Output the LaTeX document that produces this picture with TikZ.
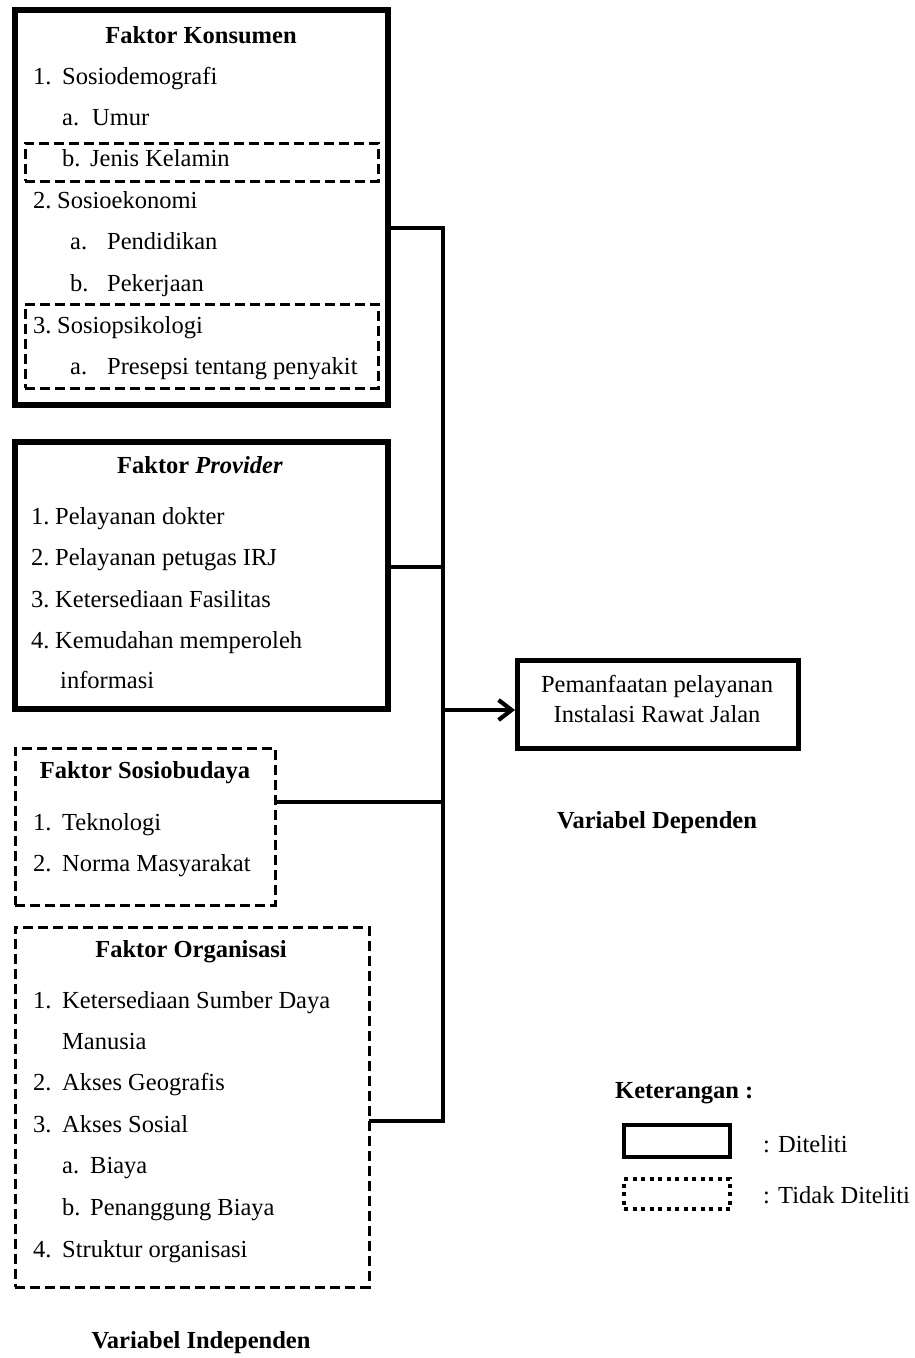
\documentclass[tikz,border=0pt]{standalone}
\usepackage{fontspec}
\setmainfont{Liberation Serif}
\usetikzlibrary{arrows.meta}
\newcommand\itemlbl[2]{\makebox[#1][l]{#2}}
\begin{document}
\begin{tikzpicture}[x=1pt,y=-1pt,
  solidbox/.style={draw, line width=5.5pt, inner sep=0pt, outer sep=0pt, anchor=north west},
  dashbox/.style={draw, line width=3pt, dash pattern=on 10pt off 5pt, inner sep=0pt, outer sep=0pt, anchor=north west},
  dotbox/.style={draw, line width=3.8pt, dash pattern=on 4pt off 4.5pt, inner sep=0pt, outer sep=0pt, anchor=north west},
  txt/.style={anchor=base west, inner sep=0pt, font=\fontsize{24.5}{29}\selectfont},
  ctxt/.style={anchor=base, inner sep=0pt, font=\fontsize{24.5}{29}\selectfont},
  ttl/.style={anchor=base, inner sep=0pt, font=\fontsize{24.5}{29}\selectfont\bfseries},
  conn/.style={line width=4.2pt}
]
\useasboundingbox[fill=white] (0,0) rectangle (914,1358);

% ---------- Faktor Konsumen ----------
\node[solidbox, minimum width=373pt, minimum height=395pt] (kons) at (15,10) {};
\node[dashbox, minimum width=353pt, minimum height=38pt] (jk) at (25,143) {};
\node[dashbox, minimum width=353pt, minimum height=84pt] (sp) at (25,304) {};
\node[ttl] (k0) at (201,43) {Faktor Konsumen};
\node[txt] (k1) at (33,84) {\itemlbl{29pt}{1.}Sosiodemografi};
\node[txt] (k2) at (62,125) {\itemlbl{30pt}{a.}Umur};
\node[txt] (k3) at (62,166) {\itemlbl{28pt}{b.}Jenis Kelamin};
\node[txt] (k4) at (33,208) {\itemlbl{24pt}{2.}Sosioekonomi};
\node[txt] (k5) at (70,249) {\itemlbl{37pt}{a.}Pendidikan};
\node[txt] (k6) at (70,291) {\itemlbl{37pt}{b.}Pekerjaan};
\node[txt] (k7) at (33,333) {\itemlbl{24pt}{3.}Sosiopsikologi};
\node[txt] (k8) at (70,374) {\itemlbl{37pt}{a.}Presepsi tentang penyakit};

% ---------- Faktor Provider ----------
\node[solidbox, minimum width=373pt, minimum height=267pt] (prov) at (15,442) {};
\node[ttl] (p0) at (200,473) {Faktor \textit{Provider}};
\node[txt] (p1) at (31,524) {\itemlbl{24pt}{1.}Pelayanan dokter};
\node[txt] (p2) at (31,565) {\itemlbl{24pt}{2.}Pelayanan petugas IRJ};
\node[txt] (p3) at (31,607) {\itemlbl{24pt}{3.}Ketersediaan Fasilitas};
\node[txt] (p4) at (31,648) {\itemlbl{24pt}{4.}Kemudahan memperoleh};
\node[txt] (p5) at (60,688) {informasi};

% ---------- Faktor Sosiobudaya ----------
\node[dashbox, minimum width=260pt, minimum height=157pt] (sosb) at (15,748) {};
\node[ttl] (s0) at (145,778) {Faktor Sosiobudaya};
\node[txt] (s1) at (33,830) {\itemlbl{29pt}{1.}Teknologi};
\node[txt] (s2) at (33,871) {\itemlbl{29pt}{2.}Norma Masyarakat};

% ---------- Faktor Organisasi ----------
\node[dashbox, minimum width=354pt, minimum height=360pt] (org) at (15,927) {};
\node[ttl] (o0) at (191,957) {Faktor Organisasi};
\node[txt] (o1) at (33,1008) {\itemlbl{29pt}{1.}Ketersediaan Sumber Daya};
\node[txt] (o2) at (62,1049) {Manusia};
\node[txt] (o3) at (33,1090) {\itemlbl{29pt}{2.}Akses Geografis};
\node[txt] (o4) at (33,1132) {\itemlbl{29pt}{3.}Akses Sosial};
\node[txt] (o5) at (62,1173) {\itemlbl{28pt}{a.}Biaya};
\node[txt] (o6) at (62,1215) {\itemlbl{28pt}{b.}Penanggung Biaya};
\node[txt] (o7) at (33,1257) {\itemlbl{29pt}{4.}Struktur organisasi};
\node[ttl] (vi) at (201,1348) {Variabel Independen};

% ---------- Dependent ----------
\node[solidbox, line width=5pt, minimum width=281pt, minimum height=88pt] (dep) at (517,660) {};
\node[ctxt] (d1) at (657,692) {Pemanfaatan pelayanan};
\node[ctxt] (d2) at (657,722) {Instalasi Rawat Jalan};
\node[ttl] (vd) at (657,828) {Variabel Dependen};

% ---------- Connectors ----------
\coordinate (b1) at (443,228);
\coordinate (b2) at (443,567);
\coordinate (b3) at (443,802);
\coordinate (b4) at (443,1121);
\coordinate (ba) at (443,710);
\draw[conn] (kons.east |- b1) -- (b1) -- (b4) -- (org.east |- b4);
\draw[conn] (prov.east |- b2) -- (b2);
\draw[conn] (sosb.east |- b3) -- (b3);
\draw[conn, -{Straight Barb[length=13pt, width=20pt]}] (ba) -- ([xshift=-2pt]dep.west |- ba);

% ---------- Legend ----------
\node[anchor=base west, inner sep=0pt, font=\fontsize{24.5}{29}\selectfont\bfseries] (ket) at (615,1098) {Keterangan :};
\node[solidbox, line width=4.5pt, minimum width=106pt, minimum height=32pt] (lg1) at (624,1125) {};
\node[txt] (lt1) at (763,1152) {: Diteliti};
\node[dotbox, minimum width=106pt, minimum height=30pt] (lg2) at (624,1179) {};
\node[txt] (lt2) at (763,1203) {: Tidak Diteliti};
\end{tikzpicture}
\end{document}
